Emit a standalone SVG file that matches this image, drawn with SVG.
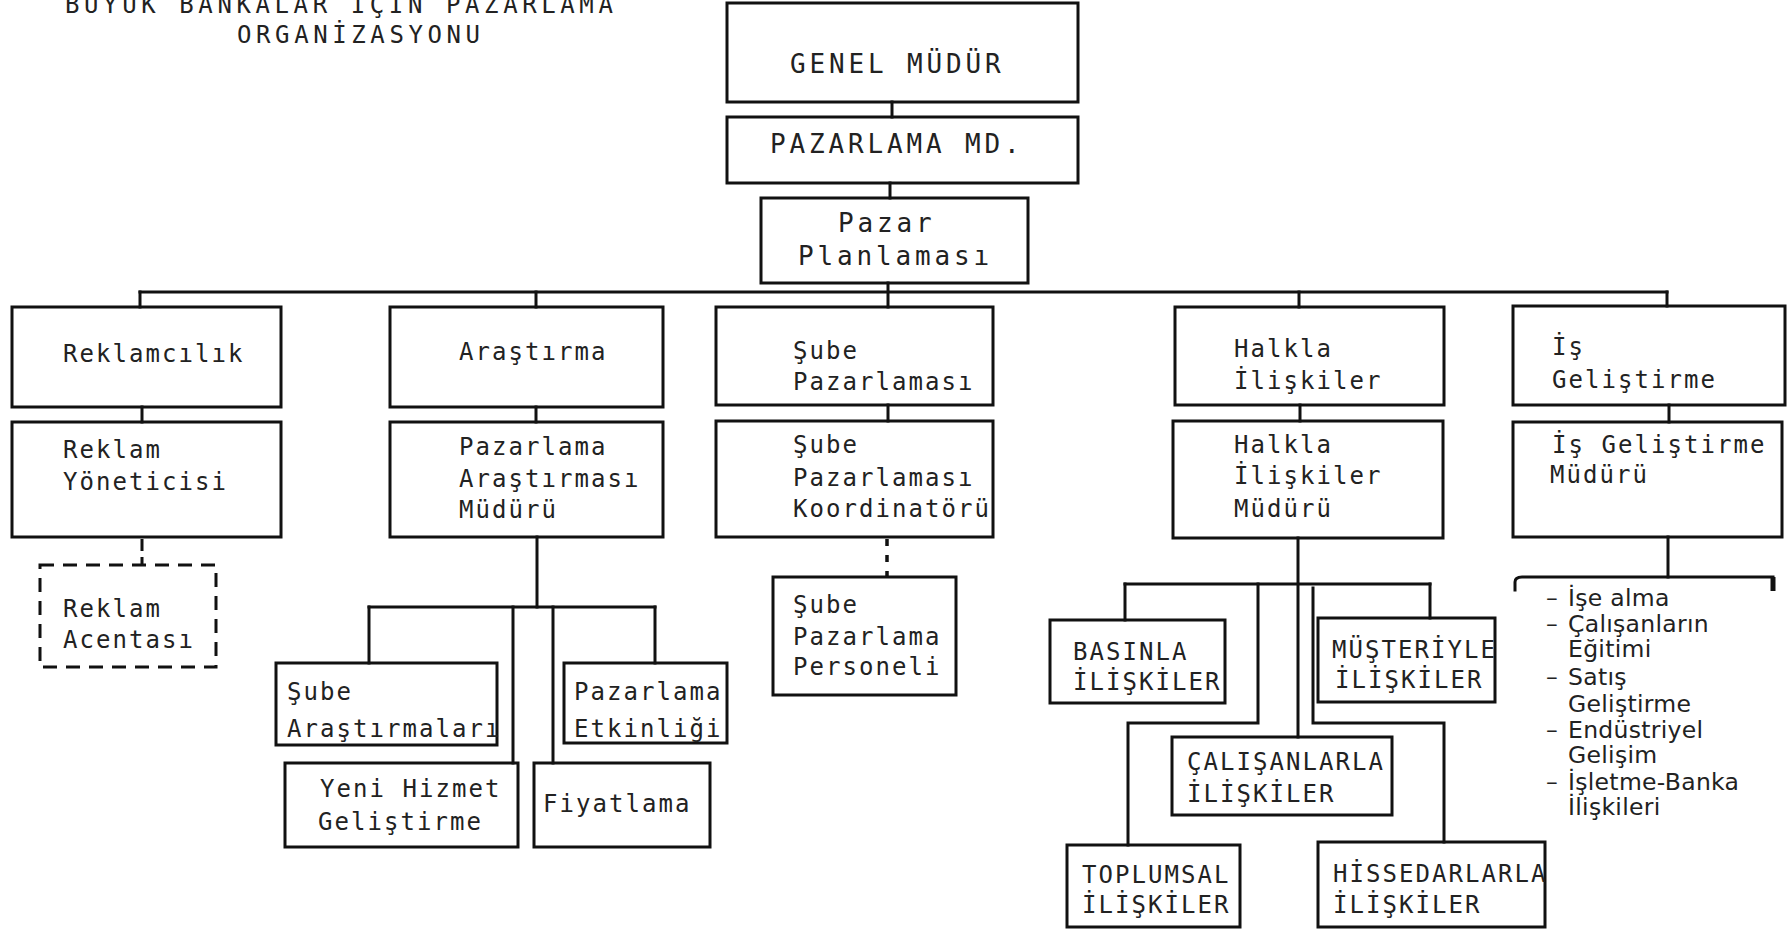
<svg xmlns="http://www.w3.org/2000/svg" width="1789" height="932" viewBox="0 0 1789 932">
  <style>
    .box { fill: none; stroke: #111; stroke-width: 3; stroke-linejoin: miter; }
    .dash { fill: none; stroke: #111; stroke-width: 3; stroke-dasharray: 14 9; }
    .ln { fill: none; stroke: #111; stroke-width: 3; stroke-linecap: square; }
    .dot { fill: none; stroke: #111; stroke-width: 3.5; stroke-dasharray: 7 9; }
    text { fill: #222; font-family: 'DejaVu Sans Mono', 'Liberation Mono', monospace; }
    .title { font-size: 24px; letter-spacing: 4.6px; }
    .big { font-size: 26px; letter-spacing: 3.85px; }
    .txt { font-size: 24px; letter-spacing: 2.05px; }
    .lst { font-family: 'DejaVu Sans', 'Liberation Sans', sans-serif; font-size: 23.5px; letter-spacing: 0.3px; }
  </style>
  <rect width="1789" height="932" fill="#ffffff"/>

  <!-- heading -->
  <g id="title">
    <text class="title" x="65" y="13">BÜYÜK BANKALAR İÇİN PAZARLAMA</text>
    <text class="title" x="237" y="43">ORGANİZASYONU</text>
  </g>

  <!-- connectors -->
  <g id="connectors">
    <line class="ln" x1="892" y1="102" x2="892" y2="117"/>
    <line class="ln" x1="890" y1="183" x2="890" y2="198"/>
    <line class="ln" x1="888" y1="283" x2="888" y2="307"/>
    <line class="ln" x1="140" y1="292" x2="1667" y2="292"/>
    <line class="ln" x1="140" y1="292" x2="140" y2="307"/>
    <line class="ln" x1="536" y1="292" x2="536" y2="307"/>
    <line class="ln" x1="1299" y1="292" x2="1299" y2="307"/>
    <line class="ln" x1="1667" y1="292" x2="1667" y2="306"/>

    <line class="ln" x1="142" y1="407" x2="142" y2="422"/>
    <line class="dot" x1="142" y1="539" x2="142" y2="565" style="stroke-dasharray: 12 6; stroke-width: 3"/>
    <line class="ln" x1="536" y1="407" x2="536" y2="422"/>
    <line class="ln" x1="888" y1="405" x2="888" y2="421"/>
    <line class="dot" x1="887" y1="539" x2="887" y2="577"/>
    <line class="ln" x1="1300" y1="405" x2="1300" y2="421"/>
    <line class="ln" x1="1669" y1="405" x2="1669" y2="422"/>

    <!-- research branches -->
    <line class="ln" x1="537" y1="537" x2="537" y2="607"/>
    <line class="ln" x1="369" y1="607" x2="655" y2="607"/>
    <line class="ln" x1="369" y1="607" x2="369" y2="663"/>
    <line class="ln" x1="655" y1="607" x2="655" y2="663"/>
    <line class="ln" x1="513" y1="607" x2="513" y2="763"/>
    <line class="ln" x1="553" y1="607" x2="553" y2="763"/>

    <!-- public relations branches -->
    <line class="ln" x1="1298" y1="538" x2="1298" y2="737"/>
    <line class="ln" x1="1125" y1="584" x2="1430" y2="584"/>
    <line class="ln" x1="1125" y1="584" x2="1125" y2="620"/>
    <line class="ln" x1="1430" y1="584" x2="1430" y2="618"/>
    <polyline class="ln" points="1258,584 1258,723 1128,723 1128,845"/>
    <polyline class="ln" points="1313,588 1313,723 1444,723 1444,842"/>

    <!-- business development list bracket -->
    <line class="ln" x1="1668" y1="537" x2="1668" y2="577"/>
    <path class="ln" d="M1515,590 L1515,582 Q1515,577 1522,577 L1773,577"/>
    <line x1="1773" y1="577" x2="1773" y2="591" stroke="#111" stroke-width="5"/>
  </g>

  <g id="genel-mudur">
    <rect class="box" x="727" y="3" width="351" height="99"/>
    <text class="big" x="790" y="73">GENEL MÜDÜR</text>
  </g>
  <g id="pazarlama-md">
    <rect class="box" x="727" y="117" width="351" height="66"/>
    <text class="big" x="770" y="153">PAZARLAMA MD.</text>
  </g>
  <g id="pazar-planlamasi">
    <rect class="box" x="761" y="198" width="267" height="85"/>
    <text class="big" x="838" y="232">Pazar</text>
    <text class="big" x="798" y="265">Planlaması</text>
  </g>

  <g id="reklamcilik">
    <rect class="box" x="12" y="307" width="269" height="100"/>
    <text class="txt" x="63" y="362">Reklamcılık</text>
  </g>
  <g id="reklam-yoneticisi">
    <rect class="box" x="12" y="422" width="269" height="115"/>
    <text class="txt" x="63" y="458">Reklam</text>
    <text class="txt" x="63" y="490">Yöneticisi</text>
  </g>
  <g id="reklam-acentasi">
    <rect class="dash" x="40" y="565" width="176" height="102"/>
    <text class="txt" x="63" y="617">Reklam</text>
    <text class="txt" x="63" y="648">Acentası</text>
  </g>

  <g id="arastirma">
    <rect class="box" x="390" y="307" width="273" height="100"/>
    <text class="txt" x="459" y="360">Araştırma</text>
  </g>
  <g id="pazarlama-arastirmasi-muduru">
    <rect class="box" x="390" y="422" width="273" height="115"/>
    <text class="txt" x="459" y="455">Pazarlama</text>
    <text class="txt" x="459" y="487">Araştırması</text>
    <text class="txt" x="459" y="518">Müdürü</text>
  </g>
  <g id="sube-arastirmalari">
    <rect class="box" x="276" y="663" width="221" height="82"/>
    <text class="txt" x="287" y="700">Şube</text>
    <text class="txt" x="287" y="737">Araştırmaları</text>
  </g>
  <g id="pazarlama-etkinligi">
    <rect class="box" x="564" y="663" width="163" height="80"/>
    <text class="txt" x="574" y="700">Pazarlama</text>
    <text class="txt" x="574" y="737">Etkinliği</text>
  </g>
  <g id="yeni-hizmet">
    <rect class="box" x="285" y="763" width="233" height="84"/>
    <text class="txt" x="320" y="797">Yeni Hizmet</text>
    <text class="txt" x="318" y="830">Geliştirme</text>
  </g>
  <g id="fiyatlama">
    <rect class="box" x="534" y="763" width="176" height="84"/>
    <text class="txt" x="543" y="812">Fiyatlama</text>
  </g>

  <g id="sube-pazarlamasi">
    <rect class="box" x="716" y="307" width="277" height="98"/>
    <text class="txt" x="793" y="359">Şube</text>
    <text class="txt" x="793" y="390">Pazarlaması</text>
  </g>
  <g id="sube-koordinatoru">
    <rect class="box" x="716" y="421" width="277" height="116"/>
    <text class="txt" x="793" y="453">Şube</text>
    <text class="txt" x="793" y="486">Pazarlaması</text>
    <text class="txt" x="793" y="517">Koordinatörü</text>
  </g>
  <g id="sube-personeli">
    <rect class="box" x="773" y="577" width="183" height="118"/>
    <text class="txt" x="793" y="613">Şube</text>
    <text class="txt" x="793" y="645">Pazarlama</text>
    <text class="txt" x="793" y="675">Personeli</text>
  </g>

  <g id="halkla-iliskiler">
    <rect class="box" x="1175" y="307" width="269" height="98"/>
    <text class="txt" x="1234" y="357">Halkla</text>
    <text class="txt" x="1234" y="389">İlişkiler</text>
  </g>
  <g id="halkla-iliskiler-muduru">
    <rect class="box" x="1173" y="421" width="270" height="117"/>
    <text class="txt" x="1234" y="453">Halkla</text>
    <text class="txt" x="1234" y="484">İlişkiler</text>
    <text class="txt" x="1234" y="517">Müdürü</text>
  </g>
  <g id="basinla">
    <rect class="box" x="1050" y="620" width="175" height="83"/>
    <text class="txt" x="1073" y="660">BASINLA</text>
    <text class="txt" x="1073" y="690">İLİŞKİLER</text>
  </g>
  <g id="musteriyle">
    <rect class="box" x="1318" y="618" width="177" height="84"/>
    <text class="txt" x="1332" y="658">MÜŞTERİYLE</text>
    <text class="txt" x="1335" y="688">İLİŞKİLER</text>
  </g>
  <g id="calisanlarla">
    <rect class="box" x="1172" y="737" width="220" height="78"/>
    <text class="txt" x="1187" y="770">ÇALIŞANLARLA</text>
    <text class="txt" x="1187" y="802">İLİŞKİLER</text>
  </g>
  <g id="toplumsal">
    <rect class="box" x="1067" y="845" width="173" height="82"/>
    <text class="txt" x="1082" y="883">TOPLUMSAL</text>
    <text class="txt" x="1082" y="913">İLİŞKİLER</text>
  </g>
  <g id="hissedarlarla">
    <rect class="box" x="1318" y="842" width="227" height="85"/>
    <text class="txt" x="1333" y="882">HİSSEDARLARLA</text>
    <text class="txt" x="1333" y="913">İLİŞKİLER</text>
  </g>

  <g id="is-gelistirme">
    <rect class="box" x="1513" y="306" width="272" height="99"/>
    <text class="txt" x="1552" y="355">İş</text>
    <text class="txt" x="1552" y="388">Geliştirme</text>
  </g>
  <g id="is-gelistirme-muduru">
    <rect class="box" x="1513" y="422" width="269" height="115"/>
    <text class="txt" x="1552" y="453">İş Geliştirme</text>
    <text class="txt" x="1550" y="483">Müdürü</text>
  </g>
  <g id="is-gelistirme-gorevleri">
    <text class="lst" x="1546" y="606">–</text><text class="lst" x="1568" y="606">İşe alma</text>
    <text class="lst" x="1546" y="632">–</text><text class="lst" x="1568" y="632">Çalışanların</text>
    <text class="lst" x="1568" y="657">Eğitimi</text>
    <text class="lst" x="1546" y="685">–</text><text class="lst" x="1568" y="685">Satış</text>
    <text class="lst" x="1568" y="712">Geliştirme</text>
    <text class="lst" x="1546" y="738">–</text><text class="lst" x="1568" y="738">Endüstriyel</text>
    <text class="lst" x="1568" y="763">Gelişim</text>
    <text class="lst" x="1546" y="790">–</text><text class="lst" x="1568" y="790">İşletme-Banka</text>
    <text class="lst" x="1568" y="815">İlişkileri</text>
  </g>
</svg>
